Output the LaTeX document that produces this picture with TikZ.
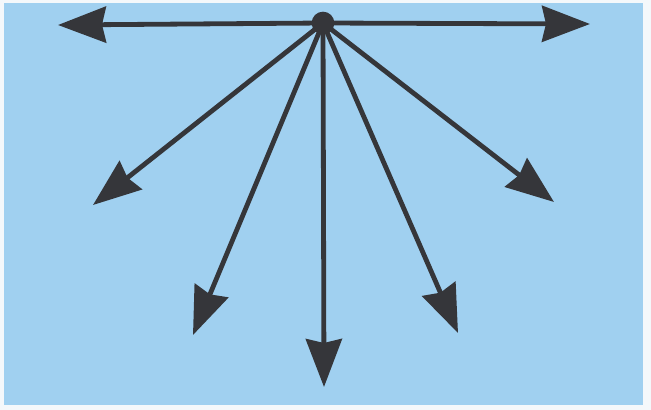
\documentclass[tikz,border=0pt]{standalone}
\usepackage{xcolor}
\usepackage{tikz}
\usetikzlibrary{arrows.meta, backgrounds}
\definecolor{sky}{HTML}{A0D0F0}
\definecolor{paper}{HTML}{F4F8FB}
\definecolor{ink}{HTML}{35363A}
\tikzset{
  ray/.style ={-{Stealth[length=36pt,width=27pt,inset=3pt]}, line width=3.6pt, draw=ink},
  hub/.style ={circle, fill=ink, minimum size=17pt, inner sep=0pt}
}
\begin{document}
\begin{tikzpicture}[x=0.75pt, y=-0.75pt]

  \useasboundingbox (0,0) rectangle (651,410);
  \fill[paper] (0,0) rectangle (651,410);
  \fill[sky] (4,3) rectangle (643,405);

  \node[hub] (hub) at (323,23) {};

  \coordinate (west)  at (58,25);
  \coordinate (east)  at (590,24);
  \coordinate (sw)    at (93,205);
  \coordinate (ssw)   at (193,335);
  \coordinate (south) at (324,387);
  \coordinate (sse)   at (458,333);
  \coordinate (se)    at (554,202);

  \draw[ray] (hub.center) -- (west);
  \draw[ray] (hub.center) -- (east);
  \draw[ray] (hub.center) -- (sw);
  \draw[ray] (hub.center) -- (ssw);
  \draw[ray] (hub.center) -- (south);
  \draw[ray] (hub.center) -- (sse);
  \draw[ray] (hub.center) -- (se);

\end{tikzpicture}
\end{document}
